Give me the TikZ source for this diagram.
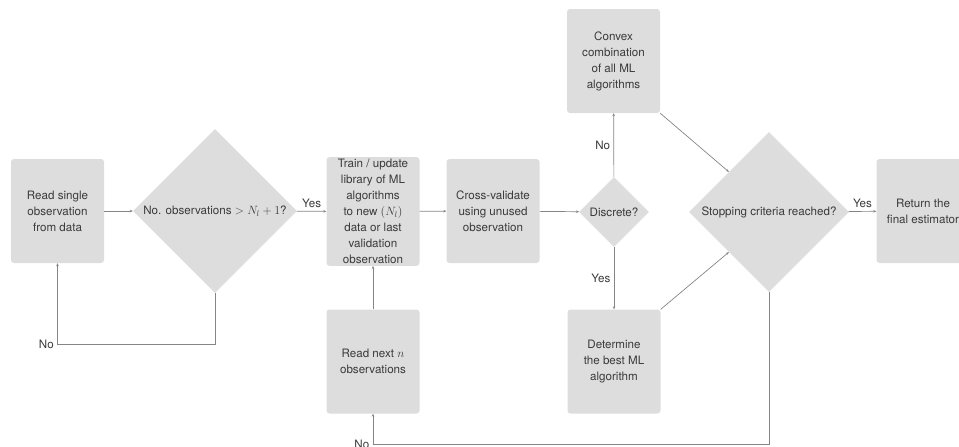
\documentclass[tikz,border=0pt]{standalone}
\usepackage{fontspec}
\setmainfont{TeX Gyre Heros}
\usetikzlibrary{shapes.geometric}
\usetikzlibrary{arrows.meta}

\definecolor{boxgray}{HTML}{DDDDDD}
\definecolor{linegray}{HTML}{858585}
\definecolor{textgray}{HTML}{3A3A3A}

\begin{document}
\begin{tikzpicture}[%
  >={Stealth[length=3pt,width=2.6pt]},
  x=1pt, y=-1pt,
  every node/.style={text=textgray, font=\fontsize{11.6}{16}\selectfont},
  procbox/.style={fill=boxgray, rounded corners=3pt, align=center,
    minimum width=93pt, minimum height=104pt, inner sep=2pt},
  decision/.style={diamond, fill=boxgray, aspect=1, inner sep=0pt},
  flow/.style={->, draw=linegray, line width=0.7pt},
]

  \useasboundingbox (0,0) rectangle (959,447);

  \node[procbox] (readone) at (57.5,211) {Read single\\observation\\from data};
  \node[decision, minimum size=164pt] (enough) at (215,211)
    {No. observations $> N_l + 1$?};
  \node[procbox] (train) at (373,211.5)
    {Train / update\\library of ML\\algorithms\\to new $(N_l)$\\data or last\\validation\\observation};
  \node[procbox] (readnext) at (373,361.5) {Read next $n$\\observations};
  \node[procbox] (crossval) at (493,211) {Cross-validate\\using unused\\observation};
  \node[decision, minimum size=70pt] (discrete) at (614,212) {Discrete?};
  \node[procbox] (convex) at (613.5,61)
    {Convex\\combination\\of all ML\\algorithms};
  \node[procbox] (best) at (614,361.5) {Determine\\the best ML\\algorithm};
  \node[decision, minimum size=160pt] (stop) at (769,212) {Stopping criteria reached?};
  \node[procbox] (final) at (923,211) {Return the\\final estimator};

  \draw[flow] (readone) -- (enough);
  \draw[flow] (enough) -- node[above] {Yes} (train);
  \draw[flow] (enough.south) -- ++(0,51) -| node[pos=0.5, left] {No} (readone.south);
  \draw[flow] (readnext) -- (train);
  \draw[flow] (train) -- (crossval);
  \draw[flow] (crossval) -- (discrete);

  \draw[flow] (discrete) -- node[left] {No} (convex);
  \draw[flow] (discrete) -- node[left] {Yes} (best);
  \draw[flow] (convex.south east) -- (stop.north west);
  \draw[flow] (best.north east) -- (stop.south west);

  \draw[flow] (stop) -- node[above] {Yes} (final);
  \draw[flow] (stop.south) -- ++(0,152) -| node[pos=0.5, left] {No} (readnext.south);

\end{tikzpicture}
\end{document}
